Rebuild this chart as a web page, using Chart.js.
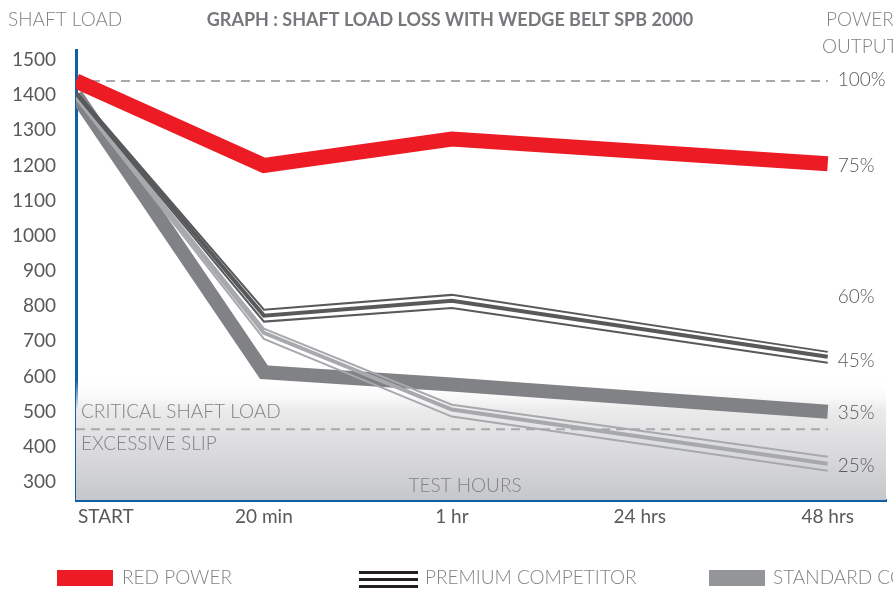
<!DOCTYPE html>
<html>
<head>
<meta charset="utf-8">
<script src="https://cdn.jsdelivr.net/npm/chart.js@4"></script>
<style>
body { margin: 0; background: #fff }
#wrap { width: 893px; height: 592px }
</style>
</head>
<body>
<div id="wrap"><canvas id="chart" width="893" height="592"></canvas></div>
<script>
const testHours = ["START", "20 min", "1 hr", "24 hrs", "48 hrs"]
const yTicks = [300, 400, 500, 600, 700, 800, 900, 1000, 1100, 1200, 1300, 1400, 1500]

// shaft load readings, no reading at 24 hrs
const redPower = [1440, 1200, 1275, null, 1205]
const premiumHigh = [1410, 790, 832, null, 670]
const premiumMid = [1405, 773, 815, null, 656]
const premiumLow = [1400, 756, 795, null, 639]
const standardThick = [1400, 612, 577, null, 500]
const standardHigh = [1400, 736, 520, null, 372]
const standardMid = [1395, 724, 506, null, 352]
const standardLow = [1390, 707, 486, null, 332]

const fullOutput = 1440
const criticalLoad = 450
const slipZoneTop = 590

const powerLabels = ["100%", "75%", "60%", "45%", "35%", "25%"]
const powerAt = [1443, 1198, 826, 645, 496, 346]

const legendNames = ["RED POWER", "PREMIUM COMPETITOR", "STANDARD COMPETITOR"]

const RED = "#ed1c24"
const DARK = "#58595b"
const MID = "#808285"
const LIGHT = "#a7a9ac"
const BLUE = "#0f5fa6"
const FONT = "Lato, 'Noto Sans', sans-serif"

function pts(values) {
    return values.map((v, i) => ({x: i, y: v})).filter(p => p.y !== null)
}

function line(values, color, width, order) {
    return {
        data: pts(values), borderColor: color, borderWidth: width, order: order,
        pointRadius: 0, tension: 0, borderJoinStyle: "miter", borderCapStyle: "butt"
    }
}

function dashed(value) {
    return {
        data: [{x: 0, y: value}, {x: 4, y: value}], borderColor: LIGHT, borderWidth: 2,
        borderDash: [9, 6], pointRadius: 0, order: 9
    }
}

const decor = {
    id: "decor",
    beforeDatasetsDraw(chart) {
        const {ctx, chartArea: a, scales: {y}} = chart
        const top = y.getPixelForValue(slipZoneTop)
        const g = ctx.createLinearGradient(0, top, 0, a.bottom)
        g.addColorStop(0, "rgba(255,255,255,0)")
        g.addColorStop(0.25, "#ebebec")
        g.addColorStop(1, "#c6c7ca")
        ctx.save()
        ctx.fillStyle = g
        ctx.fillRect(a.left, top, a.right - a.left, a.bottom - top)
        ctx.restore()
    },
    afterDatasetsDraw(chart) {
        const {ctx, chartArea: a, scales: {x, y}} = chart
        ctx.save()
        ctx.textBaseline = "middle"
        ctx.font = "300 19px " + FONT
        ctx.fillStyle = MID
        ctx.textAlign = "left"
        ctx.fillText("CRITICAL SHAFT LOAD", a.left + 5, y.getPixelForValue(criticalLoad) - 17)
        ctx.fillText("EXCESSIVE SLIP", a.left + 5, y.getPixelForValue(criticalLoad) + 15)
        ctx.textAlign = "center"
        ctx.fillText("TEST HOURS", 465, a.bottom - 14)

        ctx.fillStyle = DARK
        ctx.textAlign = "left"
        const px = x.getPixelForValue(4) + 10
        powerLabels.forEach((t, i) => ctx.fillText(t, px, y.getPixelForValue(powerAt[i])))

        ctx.font = "19px " + FONT
        testHours.forEach((t, i) => {
            ctx.textAlign = i === 0 ? "left" : "center"
            ctx.fillText(t, x.getPixelForValue(i) + (i === 0 ? 2 : 0), a.bottom + 17)
        })
        ctx.restore()
    },
    afterDraw(chart) {
        const {ctx} = chart
        ctx.save()
        ctx.textBaseline = "middle"
        ctx.fillStyle = "#77787b"
        ctx.font = "bold 18px " + FONT
        ctx.textAlign = "center"
        ctx.fillText("GRAPH : SHAFT LOAD LOSS WITH WEDGE BELT SPB 2000", 450, 20)

        ctx.fillStyle = MID
        ctx.font = "300 19px " + FONT
        ctx.textAlign = "left"
        ctx.fillText("SHAFT LOAD", 8, 20)
        ctx.fillText("POWER", 826, 20)
        ctx.fillText("OUTPUT", 822, 47)

        // legend
        const ly = 578
        ctx.fillStyle = RED
        ctx.fillRect(57, 570, 56, 16)
        ctx.fillStyle = "#231f20"
        ctx.fillRect(359, 571, 59, 3)
        ctx.fillRect(359, 578, 59, 3)
        ctx.fillRect(359, 585, 59, 3)
        ctx.fillStyle = "#939598"
        ctx.fillRect(709, 570, 56, 16)
        ctx.fillStyle = MID
        ctx.fillText(legendNames[0], 122, ly)
        ctx.fillText(legendNames[1], 425, ly)
        ctx.fillText(legendNames[2], 773, ly)
        ctx.restore()
    }
}

new Chart(document.getElementById("chart"), {
    type: "line",
    data: {
        datasets: [
            line(redPower, RED, 15, 0),
            line(premiumHigh, DARK, 2, 1),
            line(premiumMid, DARK, 4, 1),
            line(premiumLow, DARK, 2, 1),
            line(standardHigh, LIGHT, 2, 2),
            line(standardMid, LIGHT, 4, 2),
            line(standardLow, LIGHT, 2, 2),
            line(standardThick, MID, 14, 3),
            dashed(fullOutput),
            dashed(criticalLoad)
        ]
    },
    plugins: [decor],
    options: {
        responsive: false,
        animation: false,
        layout: {padding: {top: 50, right: 7, left: 0, bottom: 0}},
        plugins: {legend: {display: false}, tooltip: {enabled: false}},
        scales: {
            x: {
                type: "linear", min: 0, max: 4.31,
                ticks: {display: false},
                grid: {display: false, drawTicks: false},
                border: {display: true, color: BLUE, width: 3},
                afterFit(s) { s.height = 92 }
            },
            y: {
                min: 249, max: 1528,
                afterBuildTicks(s) { s.ticks = yTicks.map(v => ({value: v})) },
                ticks: {
                    color: DARK, padding: 20, font: {family: FONT, size: 19},
                    callback: v => String(v)
                },
                grid: {display: false, drawTicks: false},
                border: {display: true, color: BLUE, width: 3},
                afterFit(s) { s.width = 76 }
            }
        }
    }
})
</script>
</body>
</html>
